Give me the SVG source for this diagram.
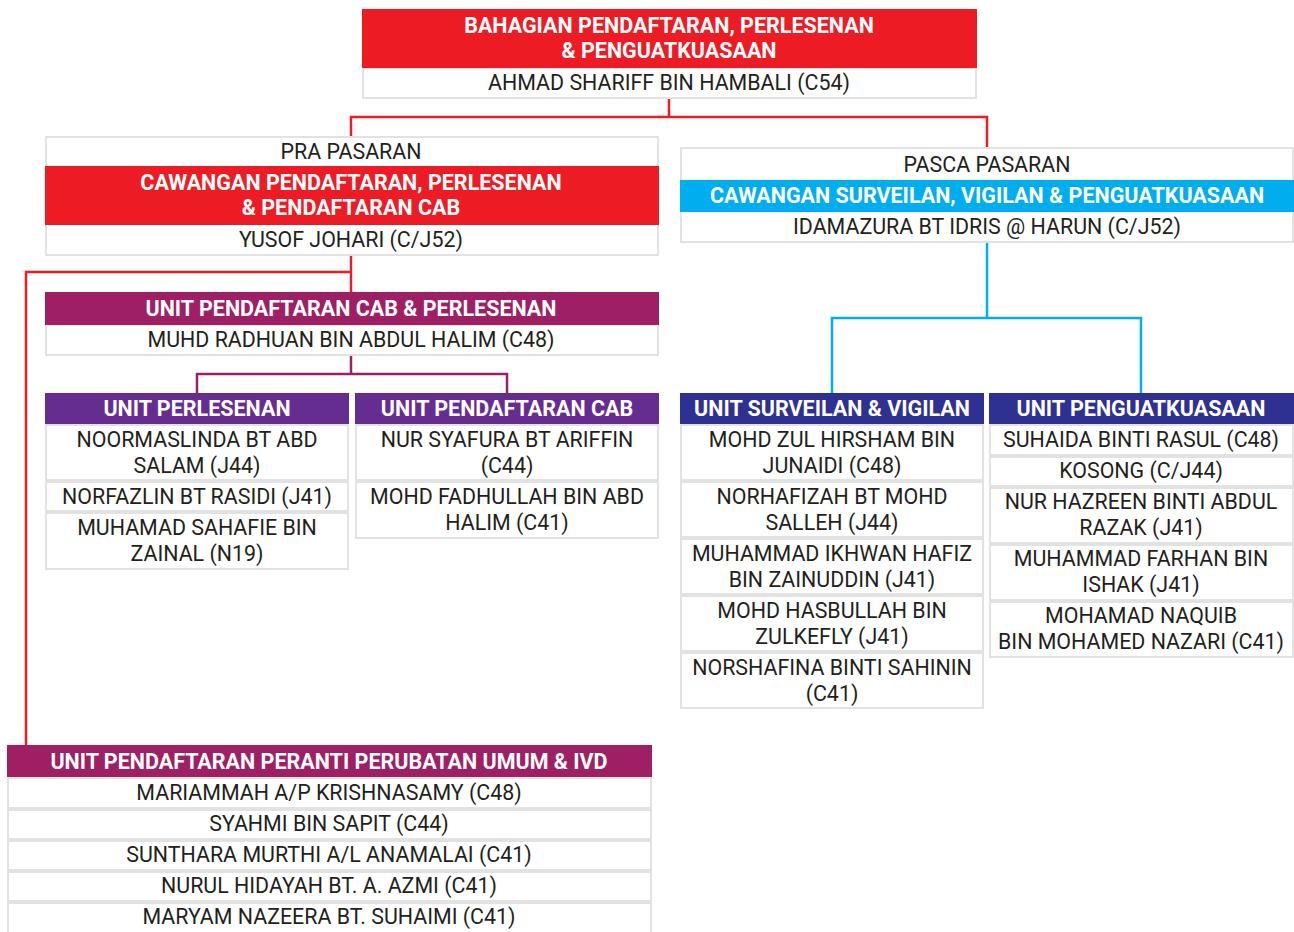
<svg xmlns="http://www.w3.org/2000/svg" width="1294" height="932" viewBox="0 0 1294 932">
<style>
.bg{fill:#ffffff}
.cell{fill:#ffffff;stroke:#e2e2e2;stroke-width:2}
.red{fill:#ED1C24}
.cyan{fill:#00AEEF}
.mag{fill:#9E1F63}
.vio{fill:#662D91}
.navy{fill:#2E3192}
.t{font-family:Roboto,"Liberation Sans",sans-serif;font-size:21.4px;fill:#231f20;text-anchor:middle}
.h{font-family:Roboto,"Liberation Sans",sans-serif;font-size:21.5px;font-weight:bold;fill:#ffffff;text-anchor:middle}
.lr{stroke:#ED1C24;stroke-width:2.5;fill:none}
.lm{stroke:#9E1F63;stroke-width:2.5;fill:none}
.lc{stroke:#00AEEF;stroke-width:2.5;fill:none}
</style>
<rect class="bg" width="1294" height="932"/>
<g id="connectors">
<polyline class="lr" points="669,98 669,117"/>
<polyline class="lr" points="351,137 351,117 987,117 987,148"/>
<polyline class="lr" points="351,255 351,292"/>
<polyline class="lr" points="351,272 26,272 26,745"/>
<polyline class="lm" points="351,355 351,374"/>
<polyline class="lm" points="197,393 197,374 507,374 507,393"/>
<polyline class="lc" points="987,242 987,318"/>
<polyline class="lc" points="832,393 832,318 1141,318 1141,393"/>
</g>
<g id="bahagian">
<rect class="cell" x="363" y="68" width="613" height="30"/>
<rect class="red" x="362" y="9" width="615" height="59"/>
<text class="h" x="669" y="33">BAHAGIAN PENDAFTARAN, PERLESENAN</text>
<text class="h" x="669" y="58">&amp; PENGUATKUASAAN</text>
<text class="t" x="669" y="90">AHMAD SHARIFF BIN HAMBALI (C54)</text>
</g>
<g id="pra">
<rect class="cell" x="46" y="137" width="612" height="118"/>
<rect class="red" x="45" y="166" width="614" height="59"/>
<text class="t" x="351" y="159">PRA PASARAN</text>
<text class="h" x="351" y="190">CAWANGAN PENDAFTARAN, PERLESENAN</text>
<text class="h" x="351" y="215">&amp; PENDAFTARAN CAB</text>
<text class="t" x="351" y="247">YUSOF JOHARI (C/J52)</text>
</g>
<g id="pasca">
<rect class="cell" x="681" y="148" width="612" height="94"/>
<rect class="cyan" x="680" y="180" width="614" height="32"/>
<text class="t" x="987" y="172">PASCA PASARAN</text>
<text class="h" x="987" y="203">CAWANGAN SURVEILAN, VIGILAN &amp; PENGUATKUASAAN</text>
<text class="t" x="987" y="234">IDAMAZURA BT IDRIS @ HARUN (C/J52)</text>
</g>
<g id="unit-cab-perlesenan">
<rect class="cell" x="46" y="325" width="612" height="30"/>
<rect class="mag" x="45" y="292" width="614" height="33"/>
<text class="h" x="351" y="316">UNIT PENDAFTARAN CAB &amp; PERLESENAN</text>
<text class="t" x="351" y="347">MUHD RADHUAN BIN ABDUL HALIM (C48)</text>
</g>
<g id="unit-perlesenan">
<rect class="vio" x="45" y="393" width="304" height="32"/>
<rect class="cell" x="46" y="425" width="302" height="55"/>
<rect class="cell" x="46" y="482" width="302" height="29"/>
<rect class="cell" x="46" y="513" width="302" height="56"/>
<text class="h" x="197" y="416">UNIT PERLESENAN</text>
<text class="t" x="197" y="447">NOORMASLINDA BT ABD</text>
<text class="t" x="197" y="473">SALAM (J44)</text>
<text class="t" x="197" y="504">NORFAZLIN BT RASIDI (J41)</text>
<text class="t" x="197" y="535">MUHAMAD SAHAFIE BIN</text>
<text class="t" x="197" y="561">ZAINAL (N19)</text>
</g>
<g id="unit-pendaftaran-cab">
<rect class="vio" x="355" y="393" width="304" height="32"/>
<rect class="cell" x="356" y="425" width="302" height="55"/>
<rect class="cell" x="356" y="482" width="302" height="56"/>
<text class="h" x="507" y="416">UNIT PENDAFTARAN CAB</text>
<text class="t" x="507" y="447">NUR SYAFURA BT ARIFFIN</text>
<text class="t" x="507" y="473">(C44)</text>
<text class="t" x="507" y="504">MOHD FADHULLAH BIN ABD</text>
<text class="t" x="507" y="530">HALIM (C41)</text>
</g>
<g id="unit-surveilan">
<rect class="navy" x="680" y="393" width="304" height="32"/>
<rect class="cell" x="681" y="425" width="302" height="55"/>
<rect class="cell" x="681" y="482" width="302" height="55"/>
<rect class="cell" x="681" y="539" width="302" height="55"/>
<rect class="cell" x="681" y="596" width="302" height="55"/>
<rect class="cell" x="681" y="653" width="302" height="55"/>
<text class="h" x="832" y="416">UNIT SURVEILAN &amp; VIGILAN</text>
<text class="t" x="832" y="447">MOHD ZUL HIRSHAM BIN</text>
<text class="t" x="832" y="473">JUNAIDI (C48)</text>
<text class="t" x="832" y="504">NORHAFIZAH BT MOHD</text>
<text class="t" x="832" y="530">SALLEH (J44)</text>
<text class="t" x="832" y="561">MUHAMMAD IKHWAN HAFIZ</text>
<text class="t" x="832" y="587">BIN ZAINUDDIN (J41)</text>
<text class="t" x="832" y="618">MOHD HASBULLAH BIN</text>
<text class="t" x="832" y="644">ZULKEFLY (J41)</text>
<text class="t" x="832" y="675">NORSHAFINA BINTI SAHININ</text>
<text class="t" x="832" y="701">(C41)</text>
</g>
<g id="unit-penguatkuasaan">
<rect class="navy" x="989" y="393" width="305" height="32"/>
<rect class="cell" x="990" y="425" width="303" height="30"/>
<rect class="cell" x="990" y="457" width="303" height="29"/>
<rect class="cell" x="990" y="488" width="303" height="55"/>
<rect class="cell" x="990" y="545" width="303" height="55"/>
<rect class="cell" x="990" y="602" width="303" height="55"/>
<text class="h" x="1141" y="416">UNIT PENGUATKUASAAN</text>
<text class="t" x="1141" y="447">SUHAIDA BINTI RASUL (C48)</text>
<text class="t" x="1141" y="478">KOSONG (C/J44)</text>
<text class="t" x="1141" y="509">NUR HAZREEN BINTI ABDUL</text>
<text class="t" x="1141" y="535">RAZAK (J41)</text>
<text class="t" x="1141" y="566">MUHAMMAD FARHAN BIN</text>
<text class="t" x="1141" y="592">ISHAK (J41)</text>
<text class="t" x="1141" y="623">MOHAMAD NAQUIB</text>
<text class="t" x="1141" y="649">BIN MOHAMED NAZARI (C41)</text>
</g>
<g id="unit-peranti">
<rect class="mag" x="7" y="745" width="645" height="33"/>
<rect class="cell" x="8" y="778" width="643" height="30"/>
<rect class="cell" x="8" y="810" width="643" height="29"/>
<rect class="cell" x="8" y="841" width="643" height="29"/>
<rect class="cell" x="8" y="872" width="643" height="29"/>
<rect class="cell" x="8" y="903" width="643" height="30"/>
<text class="h" x="329" y="769">UNIT PENDAFTARAN PERANTI PERUBATAN UMUM &amp; IVD</text>
<text class="t" x="329" y="800">MARIAMMAH A/P KRISHNASAMY (C48)</text>
<text class="t" x="329" y="831">SYAHMI BIN SAPIT (C44)</text>
<text class="t" x="329" y="862">SUNTHARA MURTHI A/L ANAMALAI (C41)</text>
<text class="t" x="329" y="893">NURUL HIDAYAH BT. A. AZMI (C41)</text>
<text class="t" x="329" y="924">MARYAM NAZEERA BT. SUHAIMI (C41)</text>
</g>
</svg>
